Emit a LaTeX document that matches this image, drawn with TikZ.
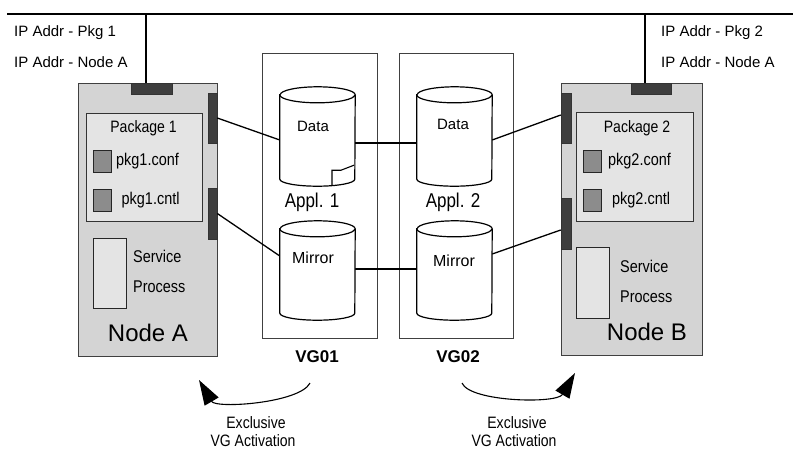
\documentclass[tikz,border=0pt]{standalone}
\usepackage{fontspec}
\setmainfont{Liberation Sans}
\newfontfamily\narrowfont{Liberation Sans}[FakeStretch=0.85]
\usetikzlibrary{arrows.meta}
\definecolor{nodefill}{HTML}{D4D4D4}
\definecolor{pkgfill}{HTML}{E4E4E4}
\definecolor{sqfill}{HTML}{8C8C8C}
\definecolor{tabfill}{HTML}{3E3E3E}
\newcommand\drawcylinder[1]{%
  \draw[cylline] ([yshift=-8pt]#1.north west) -- ([yshift=7pt]#1.south west)
     arc[start angle=180, end angle=360, x radius=37.5pt, y radius=7pt]
     -- ([yshift=-8pt]#1.north east)
     arc[start angle=0, end angle=180, x radius=37.5pt, y radius=8pt] -- cycle;
  \draw[cylline] ([yshift=-8pt]#1.north west)
     arc[start angle=180, end angle=360, x radius=37.5pt, y radius=8pt];}
\begin{document}
\begin{tikzpicture}[x=1pt,y=1pt,
  txt/.style={inner sep=0pt, font=\fontsize{15}{17}\selectfont},
  pkgt/.style={inner sep=0pt, font=\narrowfont\fontsize{16.5}{18}\selectfont},
  txtm/.style={inner sep=0pt, font=\narrowfont\fontsize{17}{19}\selectfont},
  cylt/.style={inner sep=0pt, font=\fontsize{15}{17}\selectfont},
  big/.style={inner sep=0pt, font=\fontsize{24}{26}\selectfont},
  vglbl/.style={inner sep=0pt, font=\fontsize{17}{19}\selectfont\bfseries},
  appl/.style={inner sep=0pt, font=\narrowfont\fontsize{20}{22}\selectfont},
  excl/.style={inner sep=0pt, font=\narrowfont\fontsize{16.5}{17}\selectfont},
  hostbox/.style={draw=black!75, fill=nodefill, line width=0.9pt, inner sep=0pt},
  pkgbox/.style={draw=black!80, fill=pkgfill, line width=0.8pt, inner sep=0pt},
  sq/.style={draw=black!85, fill=sqfill, line width=0.8pt, inner sep=0pt, minimum width=18pt, minimum height=22pt},
  tab/.style={draw=black!80, fill=tabfill, line width=0.6pt, inner sep=0pt},
  svc/.style={draw=black!85, fill=pkgfill, line width=0.8pt, inner sep=0pt, minimum width=33pt, minimum height=70pt},
  vgbox/.style={draw=black!75, line width=0.9pt, inner sep=0pt},
  cylbox/.style={inner sep=0pt, minimum width=75pt, minimum height=99pt},
  cylline/.style={draw=black, fill=white, line width=1.2pt},
  wire/.style={draw=black, line width=1.3pt},
  vgarrow/.style={draw=black, line width=1.1pt, -{Triangle[length=25pt,width=16pt]}}
]
\useasboundingbox (0,0) rectangle (793,-448);

% bus
\coordinate (busL) at (7,-14);
\coordinate (busR) at (793,-14);
\draw[wire] (busL) -- (busR);
\coordinate (busA) at (146,-14);
\coordinate (busB) at (645,-14);

% IP labels
\node[txt, anchor=west] (ipa1) at (14,-33) {IP Addr - Pkg 1};
\node[txt, anchor=west] (ipa2) at (14,-62) {IP Addr - Node A};
\node[txt, anchor=west] (ipb1) at (661,-33) {IP Addr - Pkg 2};
\node[txt, anchor=west] (ipb2) at (661,-62) {IP Addr - Node A};

% VG boxes
\node[vgbox, minimum width=115pt, minimum height=285pt] (vg1) at (319.5,-195.5) {};
\node[vgbox, minimum width=114pt, minimum height=285pt] (vg2) at (456,-195.5) {};

% Node A
\node[hostbox, minimum width=139pt, minimum height=273pt] (nodeA) at (147.5,-219.5) {};
\node[tab, minimum width=41pt, minimum height=11pt] (tabA) at (151.5,-88.5) {};
\node[tab, minimum width=9pt, minimum height=50pt] (tA1) at (212.5,-118) {};
\node[tab, minimum width=9pt, minimum height=51pt] (tA2) at (212.5,-213.5) {};
\node[pkgbox, minimum width=116pt, minimum height=108pt] (pkgA) at (144,-167) {};
\node[pkgt] (pkgAt) at (143.5,-128) {Package 1};
\node[sq] (sqA1) at (102,-161) {};
\node[sq] (sqA2) at (102,-200) {};
\node[txtm, anchor=west] (confA) at (116,-161) {pkg1.conf};
\node[txtm, anchor=west] (cntlA) at (121.5,-200) {pkg1.cntl};
\node[svc] (svcA) at (109.5,-273) {};
\node[txtm, anchor=west] (svA1) at (133,-256) {Service};
\node[txtm, anchor=west] (svA2) at (133,-287) {Process};
\node[big] (nameA) at (148,-333) {Node A};

% Node B
\node[hostbox, minimum width=141pt, minimum height=272pt] (nodeB) at (631.5,-219) {};
\node[tab, minimum width=40pt, minimum height=11pt] (tabB) at (651,-88.5) {};
\node[tab, minimum width=10pt, minimum height=50pt] (tB1) at (566,-118) {};
\node[tab, minimum width=10pt, minimum height=51pt] (tB2) at (566,-223.5) {};
\node[pkgbox, minimum width=117pt, minimum height=109pt] (pkgB) at (634.5,-166.5) {};
\node[pkgt] (pkgBt) at (637,-128) {Package 2};
\node[sq] (sqB1) at (592.5,-161) {};
\node[sq] (sqB2) at (592.5,-200) {};
\node[txtm, anchor=west] (confB) at (608,-161) {pkg2.conf};
\node[txtm, anchor=west] (cntlB) at (612,-200) {pkg2.cntl};
\node[svc, minimum height=71pt] (svcB) at (592.5,-282.5) {};
\node[txtm, anchor=west] (svB1) at (620,-266) {Service};
\node[txtm, anchor=west] (svB2) at (620,-297) {Process};
\node[big] (nameB) at (647,-332) {Node B};

% bus drops
\draw[wire] (busA) -- (busA |- tabA.north);
\draw[wire] (busB) -- (busB |- tabB.north);

% cylinders
\node[cylbox] (d1) at (317.5,-136.5) {};
\node[cylbox] (d2) at (454.5,-136.5) {};
\node[cylbox] (m1) at (317.5,-270.5) {};
\node[cylbox] (m2) at (454.5,-270.5) {};

% connectors
\draw[wire] (tA1.east) -- ([yshift=-3.5pt]d1.west);
\draw[wire] (tA2.east) -- ([yshift=14.5pt]m1.west);
\draw[wire] ([yshift=-6.5pt]d1.east) -- ([yshift=-6.5pt]d2.west);
\draw[wire] ([yshift=1.5pt]m1.east) -- ([yshift=1.5pt]m2.west);
\draw[wire] ([yshift=-3.5pt]d2.east) -- ([yshift=3pt]tB1.west);
\draw[wire] ([yshift=16.5pt]m2.east) -- ([yshift=-6.5pt]tB2.west);

\drawcylinder{d1}
\drawcylinder{d2}
\drawcylinder{m1}
\drawcylinder{m2}
% dog-ear on Data of Appl. 1
\draw[line width=1.1pt] (d1.south) ++(14.5pt,0.5pt) -- ++(0,15.5pt) -- ++(9pt,0) -- ++(13pt,5pt);

\node[cylt] (d1t) at (313,-126) {Data};
\node[cylt] (d2t) at (453,-124) {Data};
\node[cylt, font=\fontsize{16}{18}\selectfont] (m1t) at (313,-258) {Mirror};
\node[cylt, font=\fontsize{16}{18}\selectfont] (m2t) at (454,-261) {Mirror};
\node[appl] (ap1) at (312,-202) {Appl. 1};
\node[appl] (ap2) at (453,-202) {Appl. 2};
\node[vglbl] (vg1t) at (317,-357) {VG01};
\node[vglbl] (vg2t) at (458,-357) {VG02};

% exclusive activation arrows
\coordinate (aLs) at (310,-383);
\coordinate (aLt) at (199,-380);
\coordinate (aRs) at (462,-383);
\coordinate (aRt) at (575,-373);
\draw[vgarrow] (aLs) .. controls (300,-403) and (216,-409) .. (aLt);
\draw[vgarrow] (aRs) .. controls (470,-402) and (557,-404) .. (aRt);
\node[excl, anchor=base] (exL1) at (256,-428) {Exclusive};
\node[excl, anchor=base] (exL2) at (253,-446) {VG Activation};
\node[excl, anchor=base] (exR1) at (517,-428) {Exclusive};
\node[excl, anchor=base] (exR2) at (514,-446) {VG Activation};
\end{tikzpicture}
\end{document}
